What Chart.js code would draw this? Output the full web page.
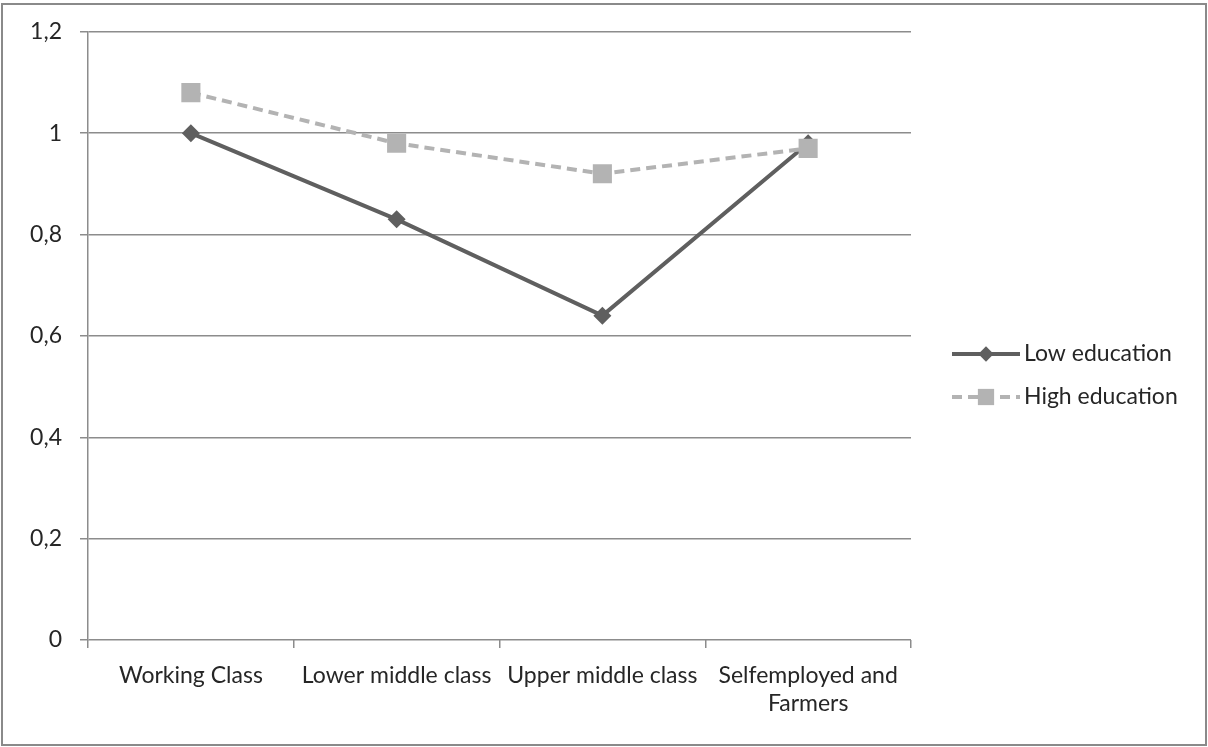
<!DOCTYPE html>
<html>
<head>
<meta charset="utf-8">
<script src="https://cdn.jsdelivr.net/npm/chart.js@4.4.0/dist/chart.umd.min.js"></script>
<style>
  html, body { margin: 0; padding: 0; background: #fff; }
  #wrap { position: relative; width: 1208px; height: 747px; }
</style>
</head>
<body>
<div id="wrap"><canvas id="c" width="1208" height="747"></canvas></div>
<script>
// Class categories on the x axis
const categories = [
  'Working Class',
  'Lower middle class',
  'Upper middle class',
  ['Selfemployed and', 'Farmers']
];
// Series values per class
const lowEducation = [1.0, 0.83, 0.64, 0.98];
const highEducation = [1.08, 0.98, 0.92, 0.97];
// Y axis tick values and their labels (comma decimals)
const yTickValues = [0, 0.2, 0.4, 0.6, 0.8, 1, 1.2];
const yTickLabels = ['0', '0,2', '0,4', '0,6', '0,8', '1', '1,2'];

const FONT = 'Lato, "Open Sans", sans-serif';
const FONT_SIZE = 23;
const TEXT = '#262626';
const GRID = '#8c8c8c';

// Outer frame around the chart
const framePlugin = {
  id: 'frame',
  afterDraw(chart) {
    const ctx = chart.ctx;
    ctx.save();
    ctx.strokeStyle = '#8a8a8a';
    ctx.lineWidth = 2;
    ctx.strokeRect(2, 4, 1204, 741);
    ctx.restore();
  }
};

// Legend on the right: line sample with the point marker in the middle
const sideLegend = {
  id: 'sideLegend',
  afterDraw(chart) {
    const ctx = chart.ctx;
    const x0 = 952, x1 = 1020, xm = 986;
    const rows = [354, 397];
    const items = [chart.data.datasets[0], chart.data.datasets[1]];
    items.forEach((ds, i) => {
      const y = rows[i];
      ctx.save();
      ctx.strokeStyle = ds.borderColor;
      ctx.lineWidth = ds.borderWidth;
      ctx.setLineDash(ds.borderDash || []);
      ctx.lineCap = 'butt';
      ctx.beginPath();
      ctx.moveTo(x0, y);
      ctx.lineTo(x1, y);
      ctx.stroke();
      ctx.setLineDash([]);
      ctx.fillStyle = ds.pointBackgroundColor;
      ctx.beginPath();
      const r = ds.pointRadius * 0.85;
      if (ds.pointStyle === 'rectRot') {
        ctx.moveTo(xm - r, y); ctx.lineTo(xm, y - r); ctx.lineTo(xm + r, y); ctx.lineTo(xm, y + r);
      } else {
        const s = r * Math.SQRT1_2;
        ctx.rect(xm - s, y - s, 2 * s, 2 * s);
      }
      ctx.closePath();
      ctx.fill();
      ctx.fillStyle = TEXT;
      ctx.font = FONT_SIZE + 'px ' + FONT;
      ctx.textBaseline = 'middle';
      ctx.textAlign = 'left';
      ctx.fillText(ds.label, 1024, y);
      ctx.restore();
    });
  }
};

new Chart(document.getElementById('c'), {
  type: 'line',
  data: {
    labels: categories,
    datasets: [
      {
        label: 'Low education',
        data: lowEducation,
        order: 1,
        borderColor: '#5f5f5f',
        borderWidth: 4,
        pointStyle: 'rectRot',
        pointRadius: 9,
        pointBackgroundColor: '#5f5f5f',
        pointBorderWidth: 0,
        tension: 0
      },
      {
        label: 'High education',
        data: highEducation,
        order: 0,
        borderColor: '#b3b3b3',
        borderWidth: 4,
        borderDash: [10, 6],
        pointStyle: 'rect',
        pointRadius: 13.5,
        pointBackgroundColor: '#b3b3b3',
        pointBorderWidth: 0,
        tension: 0
      }
    ]
  },
  options: {
    responsive: false,
    animation: false,
    devicePixelRatio: 1,
    layout: { padding: { left: 0, right: 297, top: 30, bottom: 0 } },
    plugins: {
      legend: { display: false },
      tooltip: { enabled: false },
      title: { display: false }
    },
    scales: {
      x: {
        type: 'category',
        offset: true,
        grid: {
          offset: true,
          drawOnChartArea: false,
          drawTicks: true,
          tickLength: 8,
          color: GRID,
          lineWidth: 1.5
        },
        border: { display: false },
        ticks: {
          color: TEXT,
          font: { family: FONT, size: FONT_SIZE, lineHeight: 1.2 },
          padding: 14,
          maxRotation: 0,
          autoSkip: false
        },
        afterFit(scale) { scale.height = 107; }
      },
      y: {
        min: 0,
        max: 1.2,
        afterBuildTicks(scale) {
          scale.ticks = yTickValues.map(v => ({ value: v }));
        },
        grid: {
          color: GRID,
          lineWidth: 1.5,
          tickLength: 8,
          drawTicks: true
        },
        border: { display: true, color: GRID, width: 1.5 },
        ticks: {
          color: TEXT,
          font: { family: FONT, size: FONT_SIZE },
          padding: 18,
          callback(value, index) { return yTickLabels[index]; }
        },
        afterFit(scale) { scale.width = 88; }
      }
    }
  },
  plugins: [framePlugin, sideLegend]
});
</script>
</body>
</html>
